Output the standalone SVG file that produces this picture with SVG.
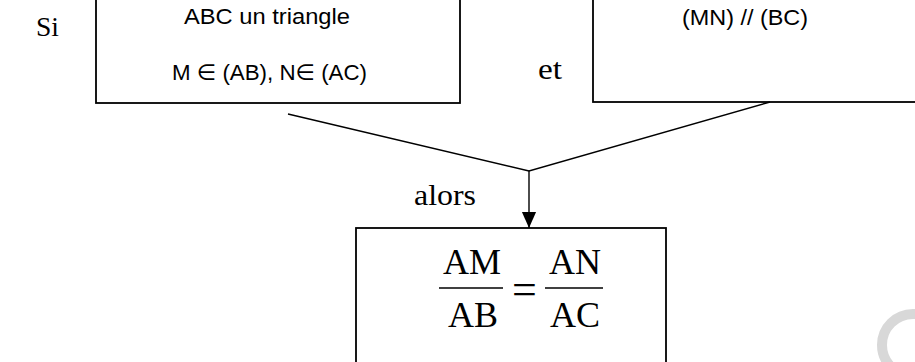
<svg xmlns="http://www.w3.org/2000/svg" width="915" height="362" viewBox="0 0 915 362">
  <defs>
    <style>
      .box { fill: #ffffff; stroke: #000000; stroke-width: 1.8; }
      .conn { fill: none; stroke: #000000; stroke-width: 1.4; }
      .serif { font-family: "Liberation Serif", "Times New Roman", serif; fill: #000000; }
      .sans { font-family: "Liberation Sans", Arial, "DejaVu Sans", sans-serif; fill: #000000; }
      .frac { font-size: 36px; }
    </style>
    <marker id="arrow" markerUnits="userSpaceOnUse" markerWidth="16" markerHeight="18" refX="17" refY="7.5" orient="auto" viewBox="0 0 17 15">
      <polygon points="0,0 17,7.5 0,15" fill="#000000"/>
    </marker>
  </defs>
  <rect width="915" height="362" fill="#ffffff"/>

  <text class="serif" x="36" y="36" font-size="28" textLength="23" lengthAdjust="spacingAndGlyphs">Si</text>
  <text class="serif" x="538" y="79" font-size="29" textLength="24" lengthAdjust="spacingAndGlyphs">et</text>
  <text class="serif" x="414" y="205" font-size="30" textLength="62" lengthAdjust="spacingAndGlyphs">alors</text>

  <g id="node-hypothesis-1">
    <rect class="box" x="96" y="-10" width="364" height="113"/>
    <text class="sans" x="184" y="24" font-size="22" textLength="166" lengthAdjust="spacingAndGlyphs">ABC un triangle</text>
    <text class="sans" x="172" y="80" font-size="22" textLength="195" lengthAdjust="spacingAndGlyphs">M ∈ (AB), N∈ (AC)</text>
  </g>

  <g id="node-hypothesis-2">
    <rect class="box" x="593" y="-10" width="340" height="112"/>
    <text class="sans" x="682" y="25" font-size="22" textLength="126" lengthAdjust="spacingAndGlyphs">(MN) // (BC)</text>
  </g>

  <g id="node-conclusion">
    <rect class="box" x="356" y="228" width="310" height="150"/>
    <text class="serif frac" x="443" y="274">AM</text>
    <text class="serif frac" x="448" y="327">AB</text>
    <line x1="439" y1="288" x2="503" y2="288" stroke="#000" stroke-width="1.5"/>
    <text class="serif" x="512" y="304" font-size="44">=</text>
    <text class="serif frac" x="549" y="274">AN</text>
    <text class="serif frac" x="550" y="327">AC</text>
    <line x1="545" y1="288" x2="603" y2="288" stroke="#000" stroke-width="1.5"/>
  </g>

  <g id="connectors">
    <polyline class="conn" points="288,114 529,171 770,102"/>
    <line class="conn" x1="529" y1="171" x2="529" y2="228" marker-end="url(#arrow)"/>
  </g>

  <g id="watermark">
    <circle cx="913" cy="345" r="31" fill="none" stroke="#d8d8d8" stroke-width="10"/>
  </g>
</svg>
